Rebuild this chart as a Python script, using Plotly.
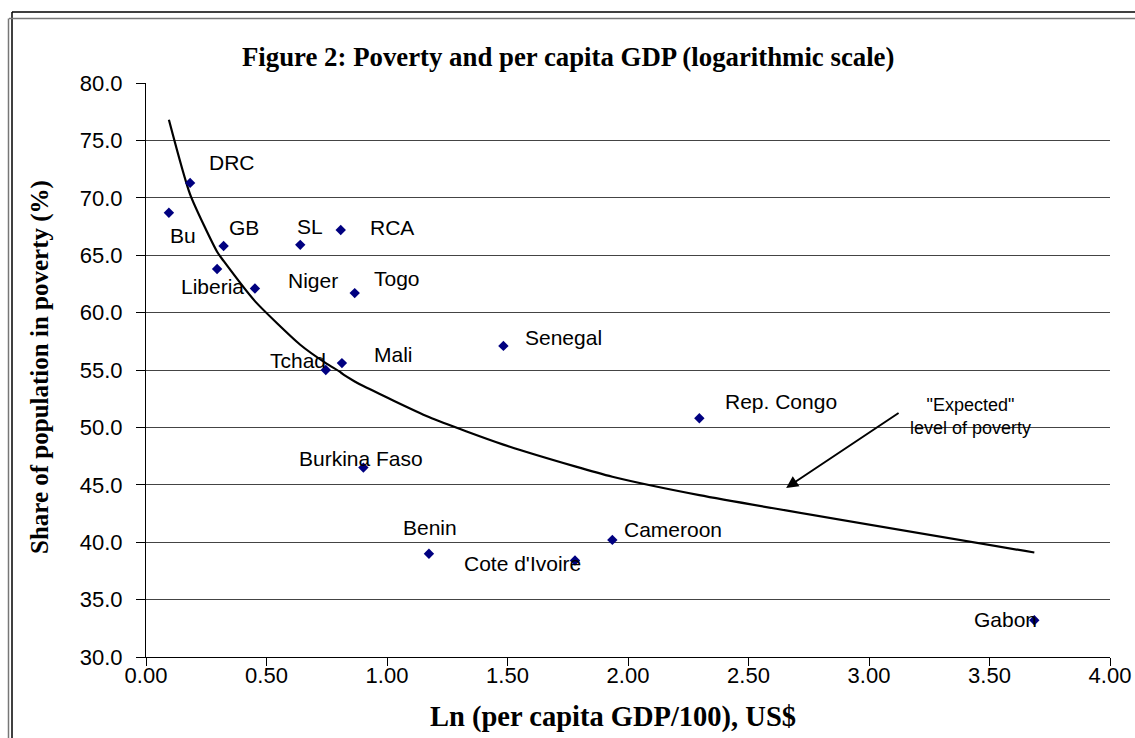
import plotly.graph_objects as go

# Country observations: ln(per capita GDP / 100) and share of population in poverty (%)
countries = ["Bu", "DRC", "Liberia", "GB", "Niger", "SL", "Tchad", "RCA", "Mali",
             "Togo", "Burkina Faso", "Benin", "Senegal", "Cote d'Ivoire",
             "Cameroon", "Rep. Congo", "Gabon"]
ln_gdp = [0.095, 0.183, 0.295, 0.322, 0.452, 0.640, 0.746, 0.808, 0.813,
          0.866, 0.902, 1.174, 1.483, 1.780, 1.935, 2.296, 3.686]
poverty = [68.7, 71.3, 63.8, 65.8, 62.1, 65.9, 55.0, 67.2, 55.6,
           61.7, 46.5, 39.0, 57.1, 38.4, 40.2, 50.8, 33.2]

# "Expected" poverty level at each country's ln GDP
expected = [76.8, 70.3, 65.3, 64.5, 61.0, 57.2, 55.6, 54.8, 54.7,
            54.0, 53.6, 50.9, 48.5, 46.6, 45.7, 44.1, 39.1]

x_ticks = [0.0, 0.5, 1.0, 1.5, 2.0, 2.5, 3.0, 3.5, 4.0]
y_ticks = [30.0, 35.0, 40.0, 45.0, 50.0, 55.0, 60.0, 65.0, 70.0, 75.0, 80.0]

# Pixel offsets of each country label relative to its marker
label_shift = {
    "Bu": (14, -23), "DRC": (42, 20), "GB": (20, 19), "Liberia": (-5, -18),
    "Niger": (58, 8), "SL": (10, 18), "RCA": (51, 2), "Togo": (42, 15),
    "Senegal": (60, 8), "Tchad": (-28, 10), "Mali": (52, 9),
    "Burkina Faso": (-2, 9), "Benin": (1, 26), "Cote d'Ivoire": (-52, -3),
    "Cameroon": (61, 10), "Rep. Congo": (82, 17), "Gabon": (-29, 1),
}

W, H = 1135, 738
ML, MR, MT, MB = 146, 25, 83, 81
PW, PH = W - ML - MR, H - MT - MB


def px(xp):
    return (xp - ML) / PW


def py(yp):
    return 1 - (yp - MT) / PH


SANS = "Liberation Sans, Arial, sans-serif"
SERIF = "Liberation Serif, Times New Roman, serif"

fig = go.Figure()

fig.add_trace(go.Scatter(
    x=ln_gdp, y=expected, mode="lines",
    line=dict(color="black", width=2.2, shape="spline", smoothing=0.6),
    hoverinfo="skip", showlegend=False,
))
fig.add_trace(go.Scatter(
    x=ln_gdp, y=poverty, mode="markers",
    marker=dict(symbol="diamond", size=8, color="#000080"),
    text=countries, showlegend=False,
))

annotations = []
for name, xv, yv in zip(countries, ln_gdp, poverty):
    dx, dy = label_shift[name]
    annotations.append(dict(
        x=xv, y=yv, xref="x", yref="y", text=name, showarrow=False,
        xshift=dx, yshift=dy, xanchor="center", yanchor="middle",
        font=dict(family=SANS, size=21, color="black"),
    ))

# Arrow pointing at the expected-poverty curve
annotations.append(dict(
    x=2.656, y=44.72, ax=3.129, ay=51.34, xref="x", yref="y", axref="x", ayref="y",
    showarrow=True, arrowhead=2, arrowsize=1.2, arrowwidth=2, arrowcolor="black", text="",
))
annotations.append(dict(
    x=px(970), y=py(416), xref="paper", yref="paper",
    text="\"Expected\"<br>level of poverty", showarrow=False,
    xanchor="center", yanchor="middle", align="center",
    font=dict(family=SANS, size=18, color="black"),
))

# Titles
annotations.append(dict(
    x=px(568), y=py(57), xref="paper", yref="paper",
    text="<b>Figure 2: Poverty and per capita GDP (logarithmic scale)</b>",
    showarrow=False, xanchor="center", yanchor="middle",
    font=dict(family=SERIF, size=26.8, color="black"),
))
annotations.append(dict(
    x=px(613), y=py(717), xref="paper", yref="paper",
    text="<b>Ln (per capita GDP/100), US$</b>",
    showarrow=False, xanchor="center", yanchor="middle",
    font=dict(family=SERIF, size=28.5, color="black"),
))
annotations.append(dict(
    x=px(40), y=py(367), xref="paper", yref="paper",
    text="<b>Share of population in poverty (%)</b>", textangle=-90,
    showarrow=False, xanchor="center", yanchor="middle",
    font=dict(family=SERIF, size=25, color="black"),
))

# Double frame around the chart
shapes = [
    dict(type="line", xref="paper", yref="paper", x0=px(12), x1=px(W + 5),
         y0=py(12), y1=py(12), line=dict(color="black", width=1.5)),
    dict(type="line", xref="paper", yref="paper", x0=px(12), x1=px(12),
         y0=py(12), y1=py(H + 5), line=dict(color="black", width=1.5)),
    dict(type="line", xref="paper", yref="paper", x0=px(9), x1=px(W + 5),
         y0=py(18.5), y1=py(18.5), line=dict(color="#777", width=1.5)),
    dict(type="line", xref="paper", yref="paper", x0=px(8.5), x1=px(8.5),
         y0=py(18.5), y1=py(H + 5), line=dict(color="#777", width=1.5)),
]

fig.update_layout(
    width=W, height=H,
    margin=dict(l=ML, r=MR, t=MT, b=MB, pad=0),
    paper_bgcolor="white", plot_bgcolor="white",
    annotations=annotations, shapes=shapes,
    showlegend=False,
)
fig.update_xaxes(
    range=[0, 4], tickvals=x_ticks, ticktext=[f"{v:.2f}" for v in x_ticks],
    automargin=False,
    showgrid=False, zeroline=False, showline=True, linecolor="black", linewidth=1,
    ticks="outside", ticklen=8, tickcolor="black", tickwidth=1,
    ticklabelstandoff=-9,
    tickfont=dict(family=SANS, size=22, color="black"),
)
fig.update_yaxes(
    range=[30, 80], tickvals=y_ticks, ticktext=[f"{v:.1f}" for v in y_ticks],
    automargin=False,
    showgrid=True, gridcolor="#444", gridwidth=1, zeroline=False,
    showline=True, linecolor="black", linewidth=1,
    ticks="outside", ticklen=9, tickcolor="black", tickwidth=1,
    ticklabelstandoff=9,
    tickfont=dict(family=SANS, size=22, color="black"),
)

fig.write_html("out.html")
